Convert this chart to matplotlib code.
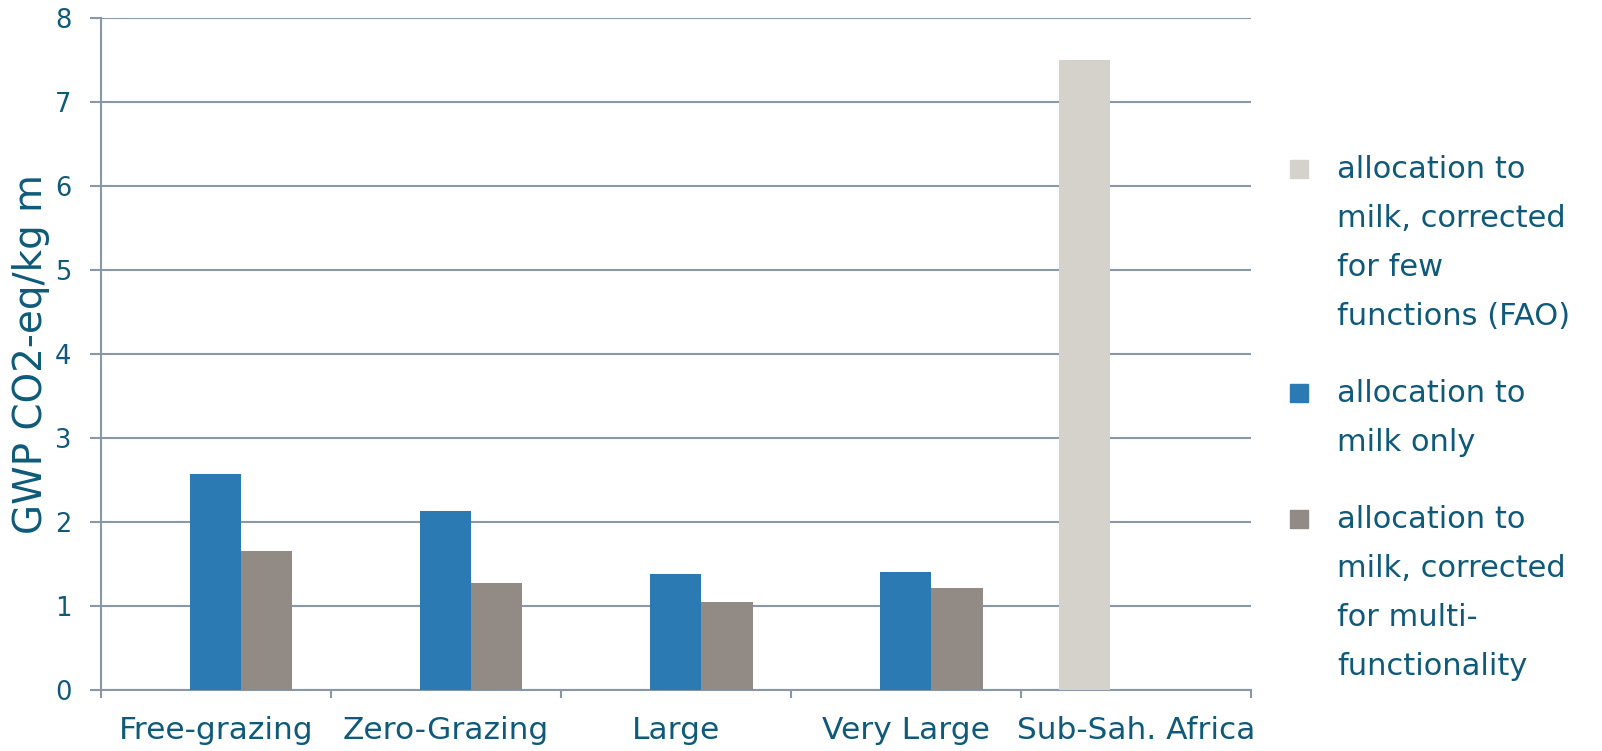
import numpy as np
import matplotlib.pyplot as plt
from matplotlib.patches import Rectangle

# GWP per kg milk for each production system
categories = ['Free-grazing', 'Zero-Grazing', 'Large', 'Very Large', 'Sub-Sah. Africa']
fao_few_functions = [np.nan, np.nan, np.nan, np.nan, 7.5]
milk_only = [2.57, 2.13, 1.38, 1.40, np.nan]
multi_functionality = [1.66, 1.27, 1.05, 1.22, np.nan]

series_labels = [
    'allocation to\nmilk, corrected\nfor few\nfunctions (FAO)',
    'allocation to\nmilk only',
    'allocation to\nmilk, corrected\nfor multi-\nfunctionality',
]

TEXT = '#0f5a7a'
GRID = '#8a98a6'
COLORS = ['#d5d2cb', '#2c7ab4', '#928a85']

W, H = 1602, 751
fig = plt.figure(figsize=(W / 100, H / 100), dpi=100)
ax = fig.add_axes([100.7 / W, 1 - 690 / H, (1251 - 100.7) / W, (690 - 18) / H])

x = np.arange(len(categories)) + 0.5
bw = 1 / 4.5
for k, vals in enumerate([fao_few_functions, milk_only, multi_functionality]):
    ax.bar(x + (k - 1) * bw, vals, width=bw, color=COLORS[k], zorder=3)

ax.set_xlim(0, len(categories))
ax.set_ylim(0, 8)
ax.set_yticks(range(0, 9))
ax.yaxis.grid(True, color=GRID, linewidth=1.5, zorder=0)
ax.set_axisbelow(True)

ax.set_xticks(x)
ax.set_xticklabels(categories)
ax.set_xticks(np.arange(len(categories) + 1), minor=True)
ax.tick_params(axis='x', which='major', length=0, pad=19, labelsize=22.5, labelcolor=TEXT)
ax.tick_params(axis='x', which='minor', length=6, width=1.5, color=GRID, direction='out')
ax.tick_params(axis='y', length=8, width=1.5, color=GRID, pad=13, labelsize=18.5, labelcolor=TEXT)

for side in ['top', 'right']:
    ax.spines[side].set_visible(False)
for side in ['left', 'bottom']:
    ax.spines[side].set_color(GRID)
    ax.spines[side].set_linewidth(1.5)

fig.text(31 / W, 1 - 354 / H, 'GWP CO2-eq/kg m', rotation=90, fontsize=28,
         color=TEXT, ha='center', va='center')

# legend drawn by hand so the swatch sits beside the first line of each label
first_baselines = [178, 402, 528]
line_step = 49
for k, label in enumerate(series_labels):
    base = first_baselines[k]
    fig.patches.append(Rectangle((1290 / W, 1 - (base) / H), 18 / W, 18 / H,
                                 transform=fig.transFigure, color=COLORS[k]))
    for j, line in enumerate(label.split('\n')):
        fig.text(1337 / W, 1 - (base + j * line_step) / H, line, fontsize=22,
                 color=TEXT, ha='left', va='baseline')

fig.savefig('out.png', dpi=100, facecolor='white')
